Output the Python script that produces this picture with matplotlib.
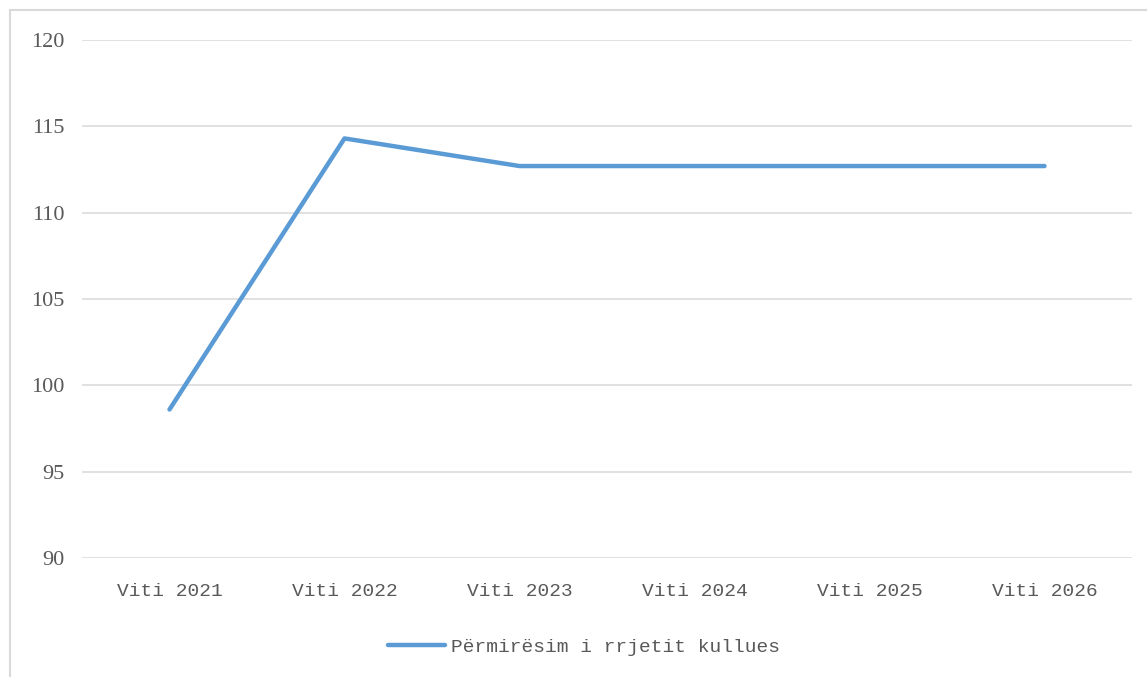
import matplotlib
matplotlib.use("Agg")
import matplotlib.pyplot as plt
from matplotlib.lines import Line2D

categories = ["Viti 2021", "Viti 2022", "Viti 2023", "Viti 2024", "Viti 2025", "Viti 2026"]
values = [98.6, 114.3, 112.7, 112.7, 112.7, 112.7]
series_name = "Përmirësim i rrjetit kullues"
y_ticks = [90, 95, 100, 105, 110, 115, 120]

W, H = 1147, 677
fig = plt.figure(figsize=(W / 100, H / 100), dpi=100)
fig.patch.set_facecolor("white")

ax = fig.add_axes([82 / W, 1 - 558 / H, (1132 - 82) / W, (558 - 40) / H])
font = "Liberation Mono"
text_color = "#595959"
grid_color = "#D9D9D9"

x = list(range(len(categories)))
ax.plot(x, values, color="#5B9BD5", linewidth=3.2, solid_capstyle="round",
        solid_joinstyle="round", label=series_name, zorder=3)

ax.set_xlim(-0.5, len(categories) - 0.5)
ax.set_ylim(90, 120)
ax.set_yticks(y_ticks)
ax.set_yticklabels([str(v) for v in y_ticks], fontfamily="Liberation Serif", fontsize=16, color=text_color)
ax.set_xticks(x)
ax.set_xticklabels(categories, fontfamily=font, fontsize=14, color=text_color)
ax.tick_params(axis="both", length=0)
ax.tick_params(axis="y", pad=12.5)
ax.tick_params(axis="x", pad=18)
ax.grid(axis="y", color=grid_color, linewidth=1.1)
ax.set_axisbelow(True)
for s in ax.spines.values():
    s.set_visible(False)

handle = Line2D([0], [0], color="#5B9BD5", linewidth=3.2, solid_capstyle="round")
fig.legend([handle], [series_name], loc="center", bbox_to_anchor=(584 / W, 1 - 647 / H),
           frameon=False, prop={"family": font, "size": 14}, labelcolor=text_color,
           handlelength=2.9, handletextpad=0.3)

# outer chart frame
fx = 10 / W
fy = 1 - 10 / H
fig.add_artist(Line2D([fx, 1], [fy, fy], transform=fig.transFigure, color=grid_color, linewidth=1.5))
fig.add_artist(Line2D([fx, fx], [0, fy], transform=fig.transFigure, color=grid_color, linewidth=1.5))

fig.savefig("out.png", dpi=100, facecolor="white")
